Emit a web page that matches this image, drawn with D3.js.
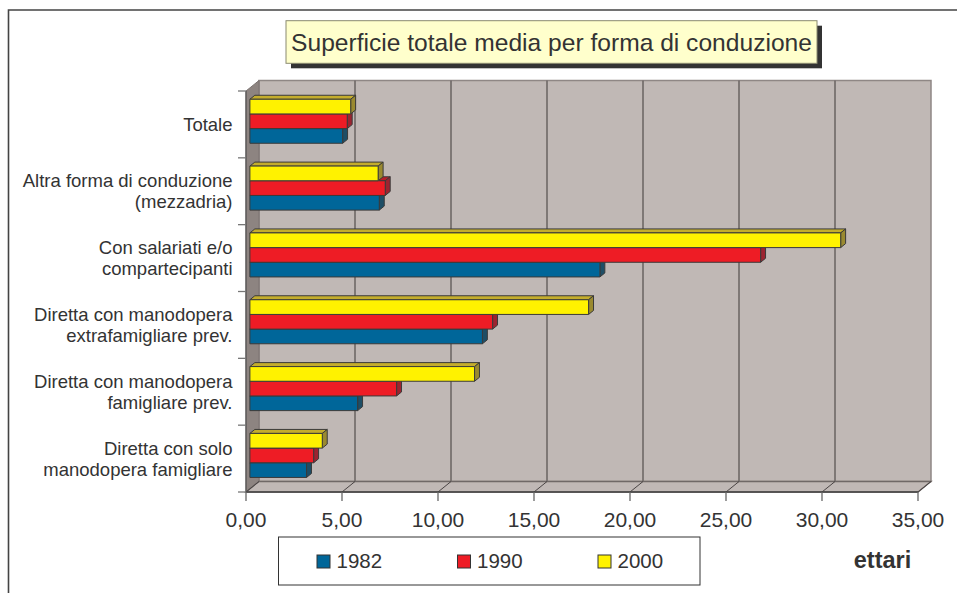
<!DOCTYPE html>
<html><head><meta charset="utf-8">
<script src="https://cdn.jsdelivr.net/npm/d3@7"></script>
<style>
html,body{margin:0;padding:0;background:#fff;}
svg{display:block;font-family:"Liberation Sans",Arial,sans-serif;}
</style></head>
<body>
<svg id="c" width="957" height="593"></svg>
<script>
// ---- data ----
const categories = [
  "Totale",
  "Altra forma di conduzione (mezzadria)",
  "Con salariati e/o compartecipanti",
  "Diretta con manodopera extrafamigliare prev.",
  "Diretta con manodopera famigliare prev.",
  "Diretta con solo manodopera famigliare"
];
const categoryLines = [
  ["Totale"],
  ["Altra forma di conduzione", "(mezzadria)"],
  ["Con salariati e/o", "compartecipanti"],
  ["Diretta con manodopera", "extrafamigliare prev."],
  ["Diretta con manodopera", "famigliare prev."],
  ["Diretta con solo", "manodopera famigliare"]
];
const years = ["1982", "1990", "2000"];
const values1982 = [4.83, 6.74, 18.23, 12.11, 5.61, 2.95];
const values1990 = [5.07, 7.05, 26.60, 12.64, 7.64, 3.32];
const values2000 = [5.25, 6.68, 30.77, 17.64, 11.70, 3.77];
const xTicks = [0, 5, 10, 15, 20, 25, 30, 35];
const titleText = "Superficie totale media per forma di conduzione";
const unitLabel = "ettari";

const seriesValues = {"1982": values1982, "1990": values1990, "2000": values2000};
const colors = {
  "1982": {front: "#006699", top: "#0a5a82", side: "#1e4e66"},
  "1990": {front: "#ee1c25", top: "#b81e2a", side: "#9c2430"},
  "2000": {front: "#fff200", top: "#c4ad2c", side: "#9a8a30"}
};

// ---- layout ----
const svg = d3.select("#c");
const DX = 13, DY = -10.5;          // depth projection of the 3D box
const Z0 = 0.3, Z1 = 0.68;          // bar depth range
const x = d3.scaleLinear().domain([0, 35]).range([246, 918]);
const y = d3.scaleBand().domain(categories).range([91, 492]).paddingInner(0).paddingOuter(0);
const yIn = d3.scaleBand().domain(["2000", "1990", "1982"]).range([0, y.bandwidth()]).paddingInner(0).paddingOuter(0.777);
const P = (px, py, z) => [px + DX * z, py + DY * z];
const fmt = v => d3.format(".2f")(v).replace(".", ",");
const textCol = "#333";

// outer frame
svg.append("path").attr("d", "M8.5,600 L8.5,10 L960,10").attr("fill", "none").attr("stroke", "#444").attr("stroke-width", 1.6);

// title
svg.append("rect").attr("x", 291).attr("y", 25.7).attr("width", 531).attr("height", 42.6).attr("fill", "#333");
svg.append("rect").attr("x", 286).attr("y", 20.7).attr("width", 531).attr("height", 42.6).attr("fill", "#ffffcc").attr("stroke", "#8a8a70").attr("stroke-width", 1);
svg.append("text").attr("x", 551.5).attr("y", 50.5).attr("text-anchor", "middle").attr("font-size", 24.6).attr("fill", textCol).text(titleText);

// walls
const x0 = x(0), x1 = x(35), yt = y.range()[0], yb = y.range()[1];
const poly = pts => "M" + pts.map(p => p.join(",")).join("L") + "Z";
// back wall
svg.append("path").attr("d", poly([P(x0, yt, 1), P(x1, yt, 1), P(x1, yb, 1), P(x0, yb, 1)]))
  .attr("fill", "#c0b8b5").attr("stroke", "#8f8785").attr("stroke-width", 1.5);
// left wall
svg.append("path").attr("d", poly([P(x0, yt, 0), P(x0, yt, 1), P(x0, yb, 1), P(x0, yb, 0)]))
  .attr("fill", "#8d8481").attr("stroke", "#7a7270").attr("stroke-width", 1);
// floor
svg.append("path").attr("d", poly([P(x0, yb, 0), P(x1, yb, 0), P(x1, yb, 1), P(x0, yb, 1)]))
  .attr("fill", "#c0b8b5").attr("stroke", "#6f6866").attr("stroke-width", 1.3);

// gridlines on back wall & floor
xTicks.forEach(t => {
  if (t > 0 && t < 35) {
    const a = P(x(t), yt, 1), b = P(x(t), yb, 1);
    svg.append("line").attr("x1", a[0]).attr("y1", a[1]).attr("x2", b[0]).attr("y2", b[1]).attr("stroke", "#6e6866").attr("stroke-width", 1.6);
  }
  const f = P(x(t), yb, 0), g = P(x(t), yb, 1);
  svg.append("line").attr("x1", f[0]).attr("y1", f[1]).attr("x2", g[0]).attr("y2", g[1]).attr("stroke", "#4a4444").attr("stroke-width", 1);
});

// axes lines
svg.append("line").attr("x1", x0).attr("y1", yb).attr("x2", x1).attr("y2", yb).attr("stroke", "#444").attr("stroke-width", 1.5);
svg.append("line").attr("x1", x0).attr("y1", yt).attr("x2", x0).attr("y2", yb).attr("stroke", "#555").attr("stroke-width", 1.2);
// x ticks + labels
xTicks.forEach(t => {
  svg.append("line").attr("x1", x(t)).attr("y1", yb).attr("x2", x(t)).attr("y2", yb + 9).attr("stroke", "#666").attr("stroke-width", 1.3);
  svg.append("text").attr("x", x(t)).attr("y", 527).attr("text-anchor", "middle").attr("font-size", 21).attr("fill", textCol).text(fmt(t));
});
// y ticks
const yBounds = categories.map(c => y(c)).concat([yb]);
yBounds.forEach(v => {
  svg.append("line").attr("x1", x0 - 8).attr("y1", v).attr("x2", x0).attr("y2", v).attr("stroke", "#777").attr("stroke-width", 1.3);
});
// category labels
categories.forEach((c, i) => {
  const lines = categoryLines[i];
  const cy = y(c) + y.bandwidth() / 2;
  const lh = 21;
  lines.forEach((ln, j) => {
    const by = cy + 6.6 + (j - (lines.length - 1) / 2) * lh;
    svg.append("text").attr("x", 232.5).attr("y", by).attr("text-anchor", "end").attr("font-size", 18.5).attr("fill", textCol).text(ln);
  });
});

// bars (draw lower bars first)
const drawOrder = ["1982", "1990", "2000"];
const gBars = svg.append("g");
categories.forEach((c, i) => {
  drawOrder.forEach(s => {
    const v = seriesValues[s][i];
    const top = y(c) + yIn(s), bot = top + yIn.bandwidth();
    const xa = x(0), xb = x(v);
    const col = colors[s];
    const g = gBars.append("g").attr("stroke", "#3a3a3a").attr("stroke-width", 1).attr("stroke-linejoin", "round");
    // top face
    g.append("path").attr("d", poly([P(xa, top, Z0), P(xb, top, Z0), P(xb, top, Z1), P(xa, top, Z1)])).attr("fill", col.top);
    // side face
    g.append("path").attr("d", poly([P(xb, top, Z0), P(xb, top, Z1), P(xb, bot, Z1), P(xb, bot, Z0)])).attr("fill", col.side);
    // front face
    g.append("path").attr("d", poly([P(xa, top, Z0), P(xb, top, Z0), P(xb, bot, Z0), P(xa, bot, Z0)])).attr("fill", col.front);
  });
});

// legend
svg.append("rect").attr("x", 278.5).attr("y", 537).attr("width", 421.5).attr("height", 48).attr("fill", "#fff").attr("stroke", "#333").attr("stroke-width", 1);
const legX = d3.scalePoint().domain(years).range([317, 598]);
years.forEach(s => {
  svg.append("rect").attr("x", legX(s)).attr("y", 555).attr("width", 13).attr("height", 13).attr("fill", colors[s].front).attr("stroke", "#333").attr("stroke-width", 1);
  svg.append("text").attr("x", legX(s) + 19.5).attr("y", 568.3).attr("font-size", 20.5).attr("fill", textCol).text(s);
});
// unit label
svg.append("text").attr("x", 882.5).attr("y", 568.3).attr("text-anchor", "middle").attr("font-size", 23.5).attr("font-weight", "bold").attr("fill", textCol).text(unitLabel);
</script>
</body></html>
